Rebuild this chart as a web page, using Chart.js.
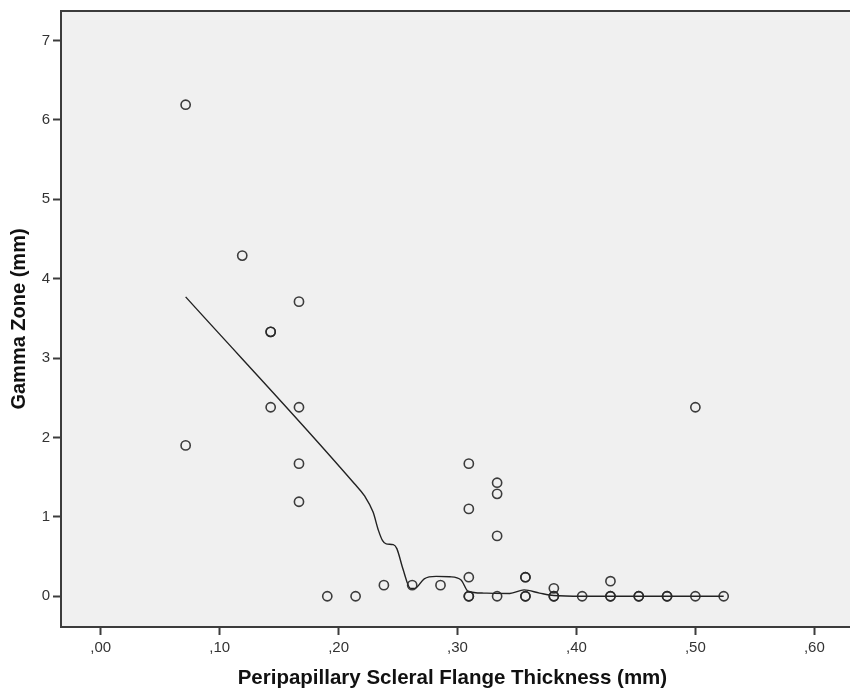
<!DOCTYPE html>
<html>
<head>
<meta charset="utf-8">
<script src="https://cdn.jsdelivr.net/npm/chart.js@4/dist/chart.umd.min.js"></script>
<style>
  html, body { margin: 0; padding: 0; background: #ffffff; overflow: hidden; }
  #wrap { width: 850px; height: 691px; }
</style>
</head>
<body>
<div id="wrap"><canvas id="c" width="850" height="691"></canvas></div>
<script>
const flangeThickness = [0.0714, 0.0714, 0.1190, 0.1429, 0.1429, 0.1429, 0.1667, 0.1667, 0.1667, 0.1667,
                         0.1905, 0.2143, 0.2381, 0.2619, 0.2857,
                         0.3095, 0.3095, 0.3095, 0.3095, 0.3095,
                         0.3333, 0.3333, 0.3333, 0.3333,
                         0.3571, 0.3571, 0.3571, 0.3571,
                         0.3810, 0.3810, 0.3810, 0.4048,
                         0.4286, 0.4286, 0.4286, 0.4524, 0.4524, 0.4762, 0.4762,
                         0.5000, 0.5000, 0.5238];
const gammaZone      = [6.19, 1.90, 4.29, 3.33, 3.33, 2.38, 3.71, 2.38, 1.67, 1.19,
                        0.00, 0.00, 0.14, 0.14, 0.14,
                        1.67, 1.10, 0.24, 0.00, 0.00,
                        1.43, 1.29, 0.76, 0.00,
                        0.24, 0.24, 0.00, 0.00,
                        0.10, 0.00, 0.00, 0.00,
                        0.19, 0.00, 0.00, 0.00, 0.00, 0.00, 0.00,
                        2.38, 0.00, 0.00];

// Loess fit line
const fitX = [0.0714, 0.2132, 0.2220, 0.2290, 0.2335, 0.2370, 0.2400, 0.2460, 0.2490, 0.2540, 0.2605, 0.2640,
              0.2720, 0.2820, 0.2935, 0.3030, 0.3090, 0.3220, 0.3440, 0.3560, 0.3690, 0.3810, 0.4048, 0.5238];
const fitY = [3.77, 1.42, 1.26, 1.06, 0.83, 0.70, 0.66, 0.65, 0.60, 0.35, 0.10, 0.10,
              0.22, 0.25, 0.245, 0.205, 0.06, 0.04, 0.035, 0.08, 0.04, 0.01, 0.00, 0.00];

const xTicks = [0, 0.1, 0.2, 0.3, 0.4, 0.5, 0.6];
const yTicks = [0, 1, 2, 3, 4, 5, 6, 7];

const xTitle = 'Peripapillary Scleral Flange Thickness (mm)';
const yTitle = 'Gamma Zone (mm)';

const scatterPts = flangeThickness.map((x, i) => ({ x: x, y: gammaZone[i] }));
const fitPts = fitX.map((x, i) => ({ x: x, y: fitY[i] }));

const frameColor = '#3c3c3c';
const FONT = 'Liberation Sans, Arial, sans-serif';

const plotBg = {
  id: 'plotBg',
  beforeDraw(chart) {
    const { ctx, chartArea: a } = chart;
    ctx.save();
    ctx.fillStyle = '#f0f0f0';
    ctx.fillRect(a.left, a.top, a.right - a.left + 10, a.bottom - a.top);
    ctx.restore();
  },
  afterDatasetsDraw(chart) {
    const { ctx, chartArea: a } = chart;
    ctx.save();
    ctx.strokeStyle = frameColor;
    ctx.lineWidth = 2;
    ctx.beginPath();
    ctx.moveTo(a.right + 10, a.top);
    ctx.lineTo(a.left, a.top);
    ctx.lineTo(a.left, a.bottom);
    ctx.lineTo(a.right + 10, a.bottom);
    ctx.stroke();
    ctx.restore();
  }
};

const fmtX = v => v.toFixed(2).replace(/^0\./, ',');

new Chart(document.getElementById('c'), {
  type: 'scatter',
  data: {
    datasets: [
      {
        label: 'Fit',
        type: 'line',
        data: fitPts,
        borderColor: '#222222',
        borderWidth: 1.4,
        pointRadius: 0,
        fill: false,
        cubicInterpolationMode: 'monotone',
        order: 2
      },
      {
        label: 'Observed',
        data: scatterPts,
        pointStyle: 'circle',
        pointRadius: 4.6,
        pointBorderWidth: 1.6,
        pointBorderColor: 'rgba(40,40,40,0.9)',
        pointBackgroundColor: 'rgba(0,0,0,0)',
        order: 1
      }
    ]
  },
  plugins: [plotBg],
  options: {
    responsive: false,
    animation: false,
    events: [],
    layout: { padding: { left: 0, right: 0, top: 11, bottom: 0 } },
    plugins: {
      legend: { display: false },
      tooltip: { enabled: false },
      title: { display: false }
    },
    scales: {
      x: {
        type: 'linear',
        min: -0.0334,
        max: 0.6248,
        afterBuildTicks: axis => { axis.ticks = xTicks.map(v => ({ value: v })); },
        afterFit: axis => { axis.height = 64; axis.paddingLeft = 0; axis.paddingRight = 0; },
        grid: { display: true, drawOnChartArea: false, drawTicks: true, tickLength: 8, tickColor: frameColor, tickWidth: 2 },
        border: { display: false },
        ticks: {
          callback: v => fmtX(v),
          color: '#333333',
          font: { family: FONT, size: 15 },
          padding: 4,
          maxRotation: 0,
          autoSkip: false
        },
        title: {
          display: true,
          text: xTitle,
          color: '#111111',
          font: { family: FONT, size: 20.5, weight: 'bold' },
          padding: { top: 0, bottom: 0 }
        }
      },
      y: {
        type: 'linear',
        min: -0.387,
        max: 7.37,
        afterBuildTicks: axis => { axis.ticks = yTicks.map(v => ({ value: v })); },
        afterFit: axis => { axis.width = 61; axis.paddingTop = 0; axis.paddingBottom = 0; },
        grid: { display: true, drawOnChartArea: false, drawTicks: true, tickLength: 8, tickColor: frameColor, tickWidth: 2 },
        border: { display: false },
        ticks: {
          callback: v => String(v),
          color: '#333333',
          font: { family: FONT, size: 15 },
          padding: 3,
          autoSkip: false
        },
        title: {
          display: true,
          text: yTitle,
          color: '#111111',
          font: { family: FONT, size: 20, weight: 'bold' },
          padding: { top: 7, bottom: 0 }
        }
      }
    }
  }
});
</script>
</body>
</html>
